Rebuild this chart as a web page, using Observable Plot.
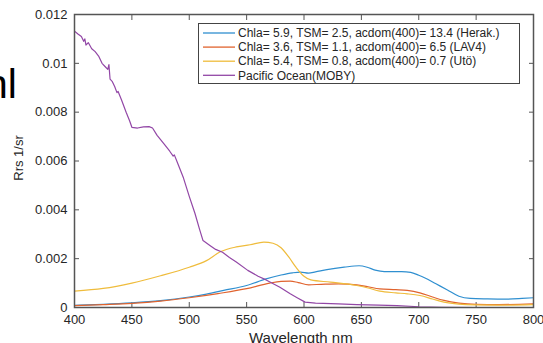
<!DOCTYPE html>
<html><head><meta charset="utf-8">
<script src="https://cdn.jsdelivr.net/npm/d3@7"></script>
<script src="https://cdn.jsdelivr.net/npm/@observablehq/plot@0.6"></script>
<style>
body{margin:0;background:#fff;}
#c{position:relative;width:543px;height:343px;overflow:hidden;font-family:"Liberation Sans",Arial,sans-serif;color:#262626;}
#c > svg{position:absolute;left:0;top:0;}
.abs{position:absolute;white-space:nowrap;}
</style></head><body><div id="c"></div>
<script>
// ---- data ----
const names = [
  "Chla= 5.9, TSM= 2.5, acdom(400)= 13.4 (Herak.)",
  "Chla= 3.6, TSM= 1.1, acdom(400)= 6.5 (LAV4)",
  "Chla= 5.4, TSM= 0.8, acdom(400)= 0.7 (Utö)",
  "Pacific Ocean(MOBY)"
];
const colors = ["#2f8fd0", "#e0632e", "#efbc3c", "#9247a6"];

const herakWl = [400,425,450,475,500,515,530,550,567,580,590,597,604,610,620,635,648,655,662,670,685,693,700,705,715,725,735,745,760,775,790,800];
const herakV  = [0.00009,0.00013,0.00019,0.00028,0.00043,0.00055,0.0007,0.0009,0.00117,0.00133,0.00142,0.00145,0.00141,0.00146,0.00155,0.00165,0.00171,0.00165,0.00153,0.00147,0.00147,0.00144,0.00132,0.00122,0.00097,0.00072,0.00046,0.00037,0.00035,0.00034,0.00037,0.0004];

const lav4Wl = [400,425,450,475,500,525,550,570,580,588,595,604,615,630,646,655,666,680,690,701,712,722,735,750,770,800];
const lav4V  = [0.00008,0.00012,0.00017,0.00026,0.0004,0.00057,0.00077,0.001,0.00107,0.00108,0.00102,0.00093,0.00095,0.00097,0.00093,0.00086,0.00076,0.00073,0.0007,0.0006,0.00043,0.00029,0.00018,0.00013,0.00012,0.00015];

const utoWl = [400,425,450,475,500,515,527,541,553,565,573,580,587,593,600,606,623,646,655,666,680,690,701,712,722,735,750,777,800];
const utoV  = [0.00067,0.00078,0.001,0.0013,0.00165,0.00192,0.00228,0.00248,0.00257,0.00268,0.00263,0.00245,0.00205,0.00165,0.00128,0.00113,0.00104,0.0009,0.00081,0.00067,0.0006,0.00056,0.00049,0.00035,0.00022,0.00014,0.00011,0.0001,0.00012];

const mobyWl = [400,403,406,408,409,410,412,415,418,421,424,427,429,430,431,433,435,437,438,441,445,448,450,455,460,465,468,472,478,483,486,487,490,495,500,505,509,512,518,523,529,535,541,551,560,567,579,588,594,601,610,630,646,665,681,700,720,750];
const mobyV  = [0.01132,0.0112,0.0111,0.0109,0.011,0.01075,0.01085,0.0106,0.01048,0.0103,0.01,0.00985,0.00975,0.00995,0.00935,0.00925,0.00905,0.0088,0.00885,0.0085,0.008,0.00765,0.00738,0.00735,0.0074,0.00741,0.00735,0.00705,0.0067,0.0064,0.0062,0.00625,0.0059,0.0053,0.00455,0.00385,0.0032,0.00274,0.00254,0.00238,0.00226,0.00205,0.00186,0.00152,0.00128,0.00113,0.00083,0.00056,0.0004,0.00022,0.00018,0.00015,0.00012,0.0001,0.00008,0.00003,0.00001,0.0];

const xTicks = [400,450,500,550,600,650,700,750,800];
const yTicks = [0,0.002,0.004,0.006,0.008,0.01,0.012];
const xTitle = "Wavelength nm";
const yTitle = "Rrs 1/sr";
const strayText = "nl";

// ---- build ----
const seriesWl = [herakWl, lav4Wl, utoWl, mobyWl];
const seriesV = [herakV, lav4V, utoV, mobyV];
const rows = [];
seriesWl.forEach((wls, i) => wls.forEach((w, j) => rows.push({s: names[i], wl: w, v: seriesV[i][j]})));

const fmtY = d => d === 0 ? "0" : String(+d.toFixed(3));
const axisColor = "#555";
const font = "'Liberation Sans', Arial, sans-serif";

const plot = Plot.plot({
  width: 543, height: 343,
  marginLeft: 74, marginRight: 10, marginTop: 14, marginBottom: 36,
  style: {fontSize: "13px", fontFamily: font, color: "#262626", background: "transparent"},
  x: {domain: [400, 800], axis: null, label: null},
  y: {domain: [0, 0.012], axis: null, label: null},
  color: {domain: names, range: colors},
  marks: [
    Plot.axisX({anchor: "bottom", ticks: xTicks, tickSize: 0, tickPadding: 7, tickFormat: d => String(d), label: null, fill: "#262626"}),
    Plot.axisX({anchor: "bottom", ticks: xTicks, tickSize: -5, tickFormat: () => "", label: null, stroke: axisColor}),
    Plot.axisX({anchor: "top", ticks: xTicks, tickSize: -5, tickFormat: () => "", label: null, stroke: axisColor}),
    Plot.axisY({anchor: "left", ticks: yTicks, tickSize: 0, tickPadding: 7, tickFormat: fmtY, label: null, fill: "#262626"}),
    Plot.axisY({anchor: "left", ticks: yTicks, tickSize: -5, tickFormat: () => "", label: null, stroke: axisColor}),
    Plot.axisY({anchor: "right", ticks: yTicks, tickSize: -5, tickFormat: () => "", label: null, stroke: axisColor}),
    Plot.lineY(rows.filter(r => r.s !== names[3]), {x: "wl", y: "v", z: "s", stroke: "s", strokeWidth: 1.2, curve: "monotone-x"}),
    Plot.lineY(rows.filter(r => r.s === names[3]), {x: "wl", y: "v", stroke: "s", strokeWidth: 1.2}),
    Plot.frame({stroke: axisColor, strokeWidth: 1.5})
  ]
});

const c = document.getElementById("c");
c.appendChild(plot);

// legend drawn into the plot's SVG
const svg = d3.select(plot);
const lg = svg.append("g").attr("font-family", font).attr("font-size", "12px")
  .attr("fill", "#262626").attr("text-anchor", "start");
lg.append("rect").attr("x", 198.5).attr("y", 23.5).attr("width", 321).attr("height", 60)
  .attr("fill", "#fff").attr("stroke", "#444").attr("stroke-width", 1);
names.forEach((n, i) => {
  const cy = 33 + i * 14.1;
  lg.append("line").attr("x1", 203).attr("x2", 235).attr("y1", cy).attr("y2", cy)
    .attr("stroke", colors[i]).attr("stroke-width", 1.3);
  lg.append("text").attr("x", 238).attr("y", cy).attr("dy", "0.35em")
    .attr("text-anchor", "start").text(n);
});

function addText(txt, css) {
  const d = document.createElement("div");
  d.className = "abs";
  d.textContent = txt;
  Object.assign(d.style, css);
  c.appendChild(d);
  return d;
}
addText(xTitle, {left: "249px", top: "330px", fontSize: "15px", lineHeight: "15px"});
addText(yTitle, {left: "18px", top: "158px", fontSize: "13px", lineHeight: "13px", transform: "translate(-50%,-50%) rotate(-90deg)"});
addText(strayText, {left: "-15px", top: "64px", fontSize: "41px", lineHeight: "41px", color: "#000"});
</script>
</body></html>
